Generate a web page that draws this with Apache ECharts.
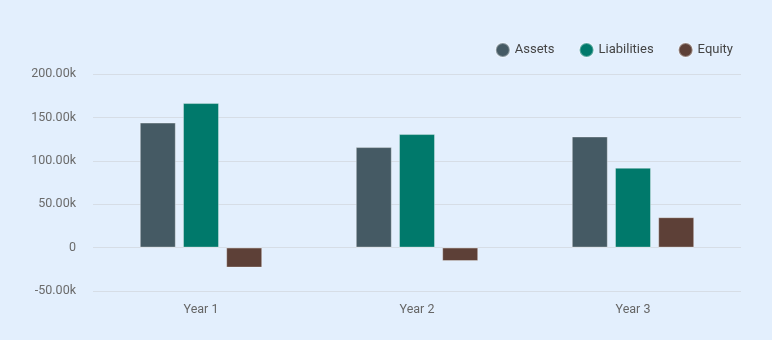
<!DOCTYPE html>
<html><head><meta charset="utf-8">
<script src="https://cdn.jsdelivr.net/npm/echarts@6/dist/echarts.min.js"></script>
<style>html,body{margin:0;padding:0;background:#e3effd}#c{width:772px;height:340px}</style>
</head><body><div id="c"></div>
<script>
const categories = ['Year 1', 'Year 2', 'Year 3'];
const assets = [144000, 115800, 128000];
const liabilities = [166500, 130800, 92000];
const equity = [-23000, -15500, 35000];
const seriesNames = ['Assets', 'Liabilities', 'Equity'];
const colors = ['#455a64', '#00796b', '#5d4037'];

const chart = echarts.init(document.getElementById('c'), null, {renderer: 'canvas'});
const mk = (name, data, color) => ({
  name, type: 'bar', data, barWidth: 36, barGap: '20%',
  itemStyle: {color, borderColor: 'rgba(255,255,255,0.35)', borderWidth: 1}
});
chart.setOption({
  backgroundColor: '#e3effd',
  textStyle: {fontFamily: 'Roboto'},
  color: colors,
  legend: {
    top: 37, right: 34, icon: 'circle', itemWidth: 14, itemHeight: 14, itemGap: 24,
    textStyle: {color: '#444', fontSize: 13, fontFamily: 'Roboto'},
    data: seriesNames
  },
  grid: {left: 93, right: 31, top: 74, bottom: 49},
  xAxis: {
    type: 'category', data: categories,
    axisLine: {show: false}, axisTick: {show: false},
    axisLabel: {color: '#666', fontSize: 12.5, margin: 12}
  },
  yAxis: {
    type: 'value', min: -50000, max: 200000, interval: 50000,
    axisLine: {show: false}, axisTick: {show: false},
    splitLine: {lineStyle: {color: '#d6dde6', width: 1}},
    axisLabel: {color: '#6b6b6b', fontSize: 12.5, margin: 17,
      formatter: v => v === 0 ? '0' : (v / 1000).toFixed(2) + 'k'}
  },
  series: [mk(seriesNames[0], assets, colors[0]), mk(seriesNames[1], liabilities, colors[1]), mk(seriesNames[2], equity, colors[2])]
});
</script></body></html>
